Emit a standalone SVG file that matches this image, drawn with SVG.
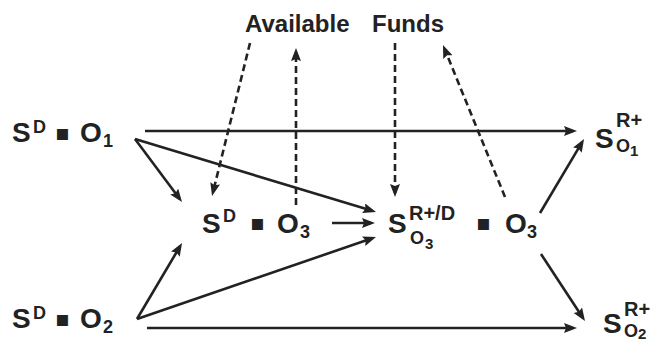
<svg xmlns="http://www.w3.org/2000/svg" width="656" height="343" viewBox="0 0 656 343">
<style>
text{font-family:"Liberation Sans",Arial,sans-serif;font-weight:bold;fill:#222}
.b{font-size:28px}
.sp{font-size:18px}
.sr{font-size:20px}
.so{font-size:18px}
.sd{font-size:15px}
.dot{font-family:"DejaVu Sans",sans-serif;font-size:22px}
.t{font-size:24px}
.ln{stroke:#222;stroke-width:2.6;fill:none;marker-end:url(#ah)}
.dl{stroke:#222;stroke-width:2.6;fill:none;stroke-dasharray:7 4;marker-end:url(#ah)}
</style>
<defs>
<marker id="ah" markerUnits="userSpaceOnUse" markerWidth="14" markerHeight="12" refX="9" refY="5" orient="auto">
<path d="M0,0 L13,5 L0,10 L2,5 z" fill="#222"/>
</marker>
</defs>
<g id="title"><text class="t" x="245" y="32">Available</text><text class="t" x="372" y="32">Funds</text></g>
<g id="sd_o1"><text class="b" x="12" y="142">S</text><text class="sp" x="33" y="133">D</text><text class="dot" x="55" y="140">▪</text><text class="b" x="80" y="142">O</text><text class="sp" x="103" y="147">1</text></g>
<g id="sd_o2"><text class="b" x="12" y="328">S</text><text class="sp" x="33" y="319">D</text><text class="dot" x="55" y="326">▪</text><text class="b" x="80" y="328">O</text><text class="sp" x="103" y="333">2</text></g>
<g id="sd_o3"><text class="b" x="202" y="233">S</text><text class="sp" x="223" y="222">D</text><text class="dot" x="250" y="230">▪</text><text class="b" x="277" y="233">O</text><text class="sp" x="300" y="238">3</text></g>
<g id="srd_o3"><text class="b" x="388" y="233">S</text><text class="sr" x="409" y="220">R+/D</text><text class="so" x="410" y="244">O</text><text class="sd" x="425" y="249">3</text><text class="dot" x="476" y="230">▪</text><text class="b" x="505" y="233">O</text><text class="sp" x="527" y="238">3</text></g>
<g id="sr_o1"><text class="b" x="595" y="148">S</text><text class="sr" x="616" y="127">R+</text><text class="so" x="616" y="152">O</text><text class="sd" x="630" y="156">1</text></g>
<g id="sr_o2"><text class="b" x="603" y="333">S</text><text class="sr" x="624" y="316">R+</text><text class="so" x="624" y="337">O</text><text class="sd" x="638" y="339">2</text></g>
<g id="connectors">
<line class="ln" x1="145" y1="131" x2="573" y2="131"/>
<line class="ln" x1="135" y1="139" x2="179.6" y2="198.8"/>
<line class="ln" x1="135" y1="139" x2="372.2" y2="210.8"/>
<line class="ln" x1="137" y1="319" x2="180" y2="246.4"/>
<line class="ln" x1="137" y1="319" x2="372.2" y2="238.3"/>
<line class="ln" x1="147" y1="328" x2="573" y2="328"/>
<line class="ln" x1="332" y1="223" x2="371" y2="223"/>
<line class="ln" x1="540" y1="213" x2="582" y2="142.4"/>
<line class="ln" x1="541" y1="254" x2="582.8" y2="317.7"/>
<line class="dl" x1="250" y1="43" x2="213" y2="192.1"/>
<line class="dl" x1="296" y1="205" x2="296" y2="52"/>
<line class="dl" x1="395" y1="43" x2="395" y2="193"/>
<line class="dl" x1="505" y1="197" x2="444.5" y2="48.7"/>
</g>
</svg>
